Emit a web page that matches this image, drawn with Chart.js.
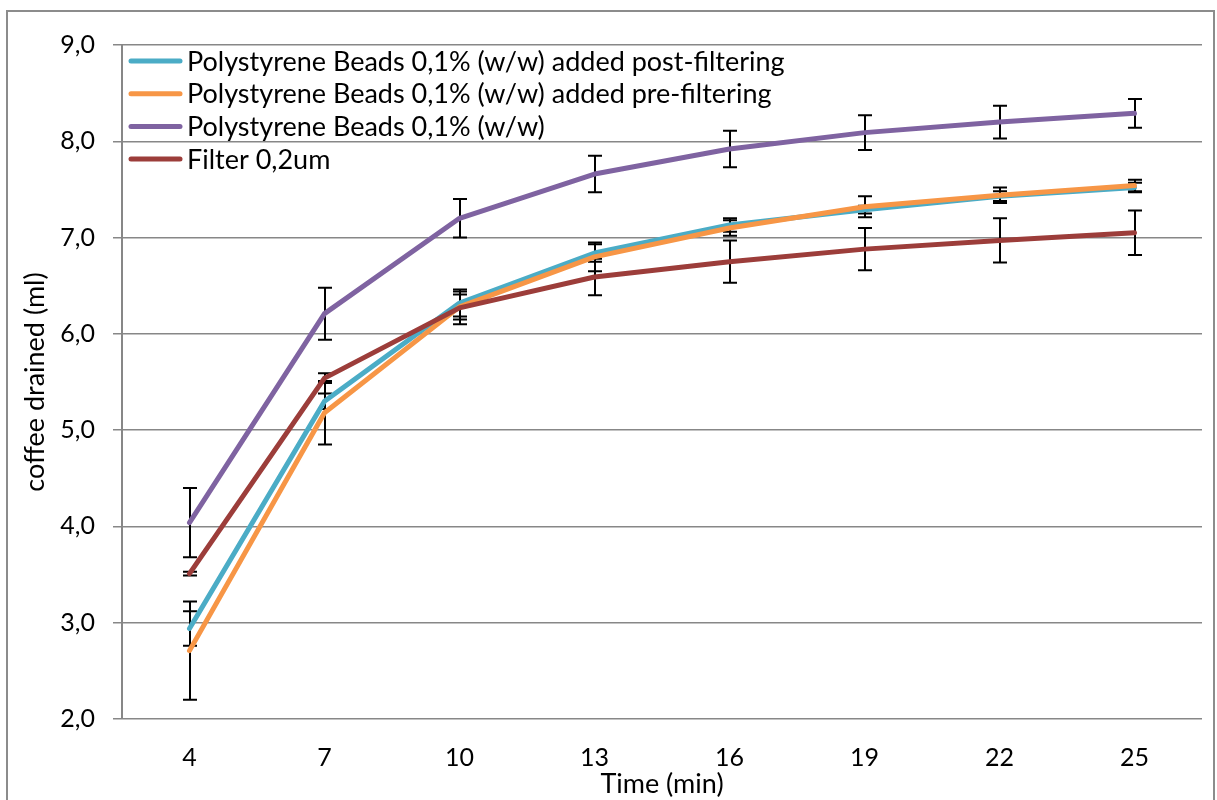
<!DOCTYPE html>
<html>
<head>
<meta charset="utf-8">
<script src="https://cdn.jsdelivr.net/npm/chart.js@4.4.0/dist/chart.umd.min.js"></script>
<style>
    body { margin: 0; background: #fff; overflow: hidden; }
    #frame { position: absolute; left: 6px; top: 10px; width: 1205px; height: 820px; border: 2px solid #8c8c8c; }
    #wrap { position: absolute; left: 0; top: 0; width: 1217px; height: 800px; }
</style>
</head>
<body>
<div id="frame"></div>
<div id="wrap"><canvas id="coffee-plot"></canvas></div>
<script>
// time points (min)
const times = ['4', '7', '10', '13', '16', '19', '22', '25'];

const post_filter = [2.94, 5.30, 6.32, 6.84, 7.13, 7.29, 7.43, 7.52];
const post_filter_err = [0.18, 0.08, 0.14, 0.09, 0.07, 0.04, 0.05, 0.05];

const pre_filter = [2.71, 5.18, 6.28, 6.80, 7.10, 7.32, 7.44, 7.54];
const pre_filter_err = [0.51, 0.33, 0.13, 0.15, 0.08, 0.11, 0.08, 0.06];

const beads = [4.04, 6.21, 7.20, 7.66, 7.92, 8.09, 8.20, 8.29];
const beads_err = [0.36, 0.27, 0.20, 0.19, 0.19, 0.18, 0.17, 0.15];

const filter_02 = [3.51, 5.54, 6.27, 6.59, 6.75, 6.88, 6.97, 7.05];
const filter_02_err = [0.02, 0.05, 0.17, 0.19, 0.22, 0.22, 0.23, 0.23];

const font_family = 'Lato, "Open Sans", sans-serif';
const grid_color = '#878787';

function make_dataset(label, data, err, color, order) {
    return {
        label: label,
        data: data,
        errors: err,
        borderColor: color,
        backgroundColor: color,
        borderWidth: 5,
        borderCapStyle: 'round',
        borderJoinStyle: 'round',
        pointRadius: 0,
        pointHoverRadius: 0,
        tension: 0,
        fill: false,
        order: order
    };
}

// error bars, drawn under the lines
const error_bars = {
    id: 'error_bars',
    beforeDatasetsDraw(chart) {
        let ctx = chart.ctx;
        let xs = chart.scales.x;
        let ys = chart.scales.y;
        ctx.save();
        ctx.strokeStyle = '#000';
        ctx.lineWidth = 2;
        chart.data.datasets.forEach((ds) => {
            for (let i = 0; i < ds.data.length; i++) {
                let px = Math.round(xs.getPixelForValue(i));
                let top = ys.getPixelForValue(ds.data[i] + ds.errors[i]);
                let bot = ys.getPixelForValue(ds.data[i] - ds.errors[i]);
                ctx.beginPath();
                ctx.moveTo(px, top);
                ctx.lineTo(px, bot);
                ctx.moveTo(px - 7, top);
                ctx.lineTo(px + 7, top);
                ctx.moveTo(px - 7, bot);
                ctx.lineTo(px + 7, bot);
                ctx.stroke();
            }
        });
        ctx.restore();
    }
};

// legend inside the plot, top left
const inner_legend = {
    id: 'inner_legend',
    afterDraw(chart) {
        let ctx = chart.ctx;
        let area = chart.chartArea;
        ctx.save();
        ctx.font = '27px ' + font_family;
        ctx.textBaseline = 'middle';
        ctx.textAlign = 'left';
        chart.data.datasets.forEach((ds, i) => {
            let y = area.top + 16 + i * 32.7;
            ctx.strokeStyle = ds.borderColor;
            ctx.lineWidth = 5;
            ctx.lineCap = 'round';
            ctx.beginPath();
            ctx.moveTo(area.left + 9, y);
            ctx.lineTo(area.left + 58, y);
            ctx.stroke();
            ctx.fillStyle = '#000';
            ctx.fillText(ds.label, area.left + 65, y + 1);
        });
        ctx.restore();
    }
};

let ctx = document.getElementById('coffee-plot');
var chart = new Chart(ctx, {
    type: 'line',
    data: {
        labels: times,
        datasets: [
            make_dataset('Polystyrene Beads 0,1% (w/w) added post-filtering', post_filter, post_filter_err, '#4BACC6', 4),
            make_dataset('Polystyrene Beads 0,1% (w/w) added pre-filtering', pre_filter, pre_filter_err, '#F79646', 3),
            make_dataset('Polystyrene Beads 0,1% (w/w)', beads, beads_err, '#7F63A1', 2),
            make_dataset('Filter 0,2um', filter_02, filter_02_err, '#9C3D3A', 1)
        ]
    },
    options: {
        responsive: true,
        maintainAspectRatio: false,
        animation: false,
        layout: { padding: { left: 0, top: 45, right: 15, bottom: 0 } },
        scales: {
            x: {
                offset: true,
                grid: { display: false, drawTicks: false, offset: true },
                border: { display: false },
                ticks: { color: '#000', padding: 24, font: { family: font_family, size: 25 } },
                title: {
                    display: true,
                    text: 'Time (min)',
                    color: '#000',
                    padding: { top: 0, bottom: 0 },
                    font: { family: font_family, size: 27 }
                },
                afterFit: (scale) => { scale.height = 81; }
            },
            y: {
                min: 2,
                max: 9,
                ticks: {
                    stepSize: 1,
                    color: '#000',
                    padding: 18,
                    font: { family: font_family, size: 25 },
                    callback: (v) => v.toFixed(1).replace('.', ',')
                },
                grid: { color: grid_color, lineWidth: 1.5, tickLength: 9 },
                border: { display: true, color: grid_color, width: 2 },
                title: {
                    display: true,
                    text: 'coffee drained (ml)',
                    color: '#000',
                    padding: { top: 19, bottom: 0 },
                    font: { family: font_family, size: 27 }
                },
                afterFit: (scale) => { scale.width = 122; }
            }
        },
        plugins: {
            legend: { display: false },
            tooltip: { enabled: false }
        }
    },
    plugins: [error_bars, inner_legend]
});
</script>
</body>
</html>
